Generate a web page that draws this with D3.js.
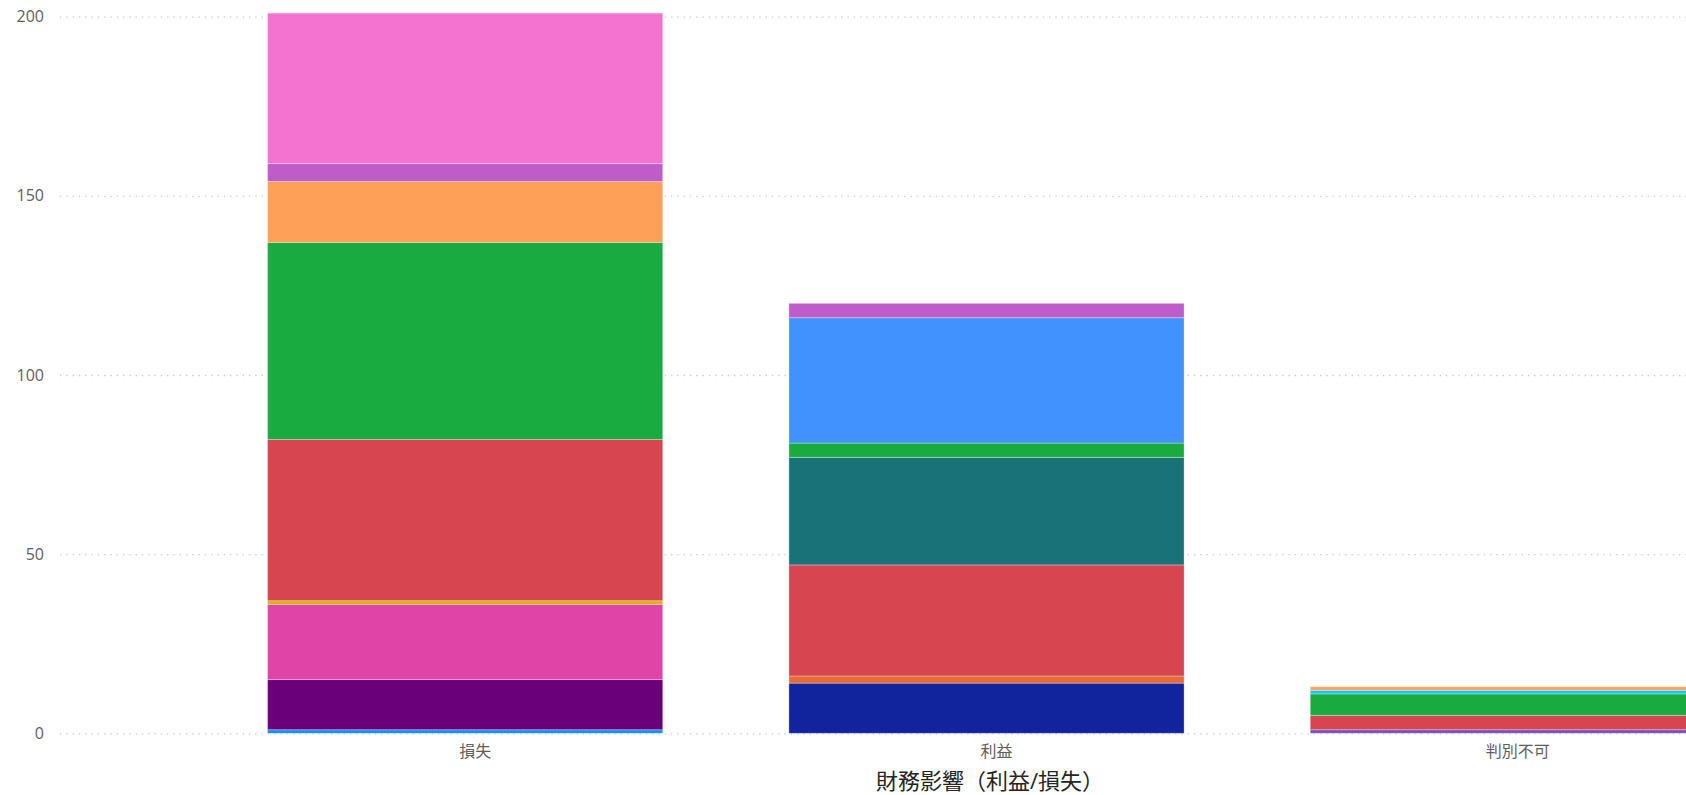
<!DOCTYPE html>
<html>
<head>
<meta charset="utf-8">
<script src="https://cdn.jsdelivr.net/npm/d3@7"></script>
<style>
  body { margin: 0; background: #fff; }
  text { font-family: "Segoe UI", "Open Sans", "Noto Sans CJK JP", sans-serif; }
</style>
</head>
<body>
<div id="chart"></div>
<script>
// categories on the x axis
const categories = ["損失", "利益", "判別不可"];
const yTicks = [0, 50, 100, 150, 200];
const axisTitle = "財務影響（利益/損失）";

// one series per stacked segment (legend is hidden in the original), bottom to top
const seriesNames = ["系列1", "系列2", "系列3", "系列4", "系列5", "系列6", "系列7", "系列8",
                     "系列9", "系列10", "系列11", "系列12", "系列13", "系列14", "系列15"];
const seriesColors = ["#118DFF", "#12239E", "#E66C37", "#6B007B", "#E044A7", "#744EC2", "#D9B300", "#D64550",
                      "#197278", "#1AAB40", "#15C6F4", "#4092FF", "#FFA058", "#BE5DC9", "#F472D0"];
// values per series, in the order of categories
const s1  = [1, 0, 0];
const s2  = [0, 14, 0];
const s3  = [0, 2, 0];
const s4  = [14, 0, 0];
const s5  = [21, 0, 0];
const s6  = [0, 0, 1];
const s7  = [1, 0, 0];
const s8  = [45, 31, 4];
const s9  = [0, 30, 0];
const s10 = [55, 4, 6];
const s11 = [0, 0, 1];
const s12 = [0, 35, 0];
const s13 = [17, 0, 1];
const s14 = [5, 4, 0];
const s15 = [42, 0, 0];
const seriesValues = [s1, s2, s3, s4, s5, s6, s7, s8, s9, s10, s11, s12, s13, s14, s15];

// build table rows for d3.stack
const rows = categories.map(function(c, i) {
    const row = { category: c };
    seriesNames.forEach(function(n, j) { row[n] = seriesValues[j][i]; });
    return row;
});

var width = 1686, height = 795;
var plotLeft = 60, plotTop = 16.7, plotBottom = 733.3;

var svg = d3.select("#chart")
    .append("svg")
    .attr("width", width)
    .attr("height", height);

var x = d3.scaleBand()
    .domain(categories)
    .range([205, 1768])
    .paddingInner(0.242)
    .paddingOuter(0.12);

var y = d3.scaleLinear()
    .domain([0, 200])
    .range([plotBottom, plotTop]);

var color = d3.scaleOrdinal().domain(seriesNames).range(seriesColors);

// Y axis with dotted gridlines
var yAxis = svg.append("g")
    .attr("transform", "translate(" + plotLeft + ",0)")
    .call(d3.axisLeft(y).tickValues(yTicks).tickSize(-(width - plotLeft)).tickPadding(16));
yAxis.select(".domain").remove();
yAxis.selectAll(".tick line")
    .attr("stroke", "#c8c8c8")
    .attr("stroke-width", 1.3)
    .attr("stroke-dasharray", "1.3,5");
yAxis.selectAll(".tick text")
    .attr("fill", "#605E5C")
    .style("font-size", "16px");

// stacked bars
var stacked = d3.stack().keys(seriesNames)(rows);

svg.append("g")
    .selectAll("g")
    .data(stacked)
    .enter()
    .append("g")
    .attr("fill", function(d) { return color(d.key); })
    .selectAll("rect")
    .data(function(d) { return d.filter(function(p) { return p[1] - p[0] > 0; }); })
    .enter()
    .append("rect")
    .attr("x", function(d) { return x(d.data.category); })
    .attr("y", function(d) { return y(d[1]); })
    .attr("width", x.bandwidth())
    .attr("height", function(d) { return y(d[0]) - y(d[1]); })
    .attr("stroke", "#fff")
    .attr("stroke-opacity", 0.3)
    .attr("stroke-width", 1);

// X axis: category labels only
var xAxis = svg.append("g")
    .attr("transform", "translate(0," + plotBottom + ")")
    .call(d3.axisBottom(x).tickSize(0).tickPadding(12));
xAxis.select(".domain").remove();
xAxis.selectAll(".tick text")
    .attr("fill", "#605E5C")
    .attr("dx", 10)
    .style("font-size", "16px");

// axis title
svg.append("text")
    .attr("x", 990)
    .attr("y", 789)
    .attr("text-anchor", "middle")
    .attr("fill", "#252423")
    .style("font-size", "22px")
    .text(axisTitle);
</script>
</body>
</html>
